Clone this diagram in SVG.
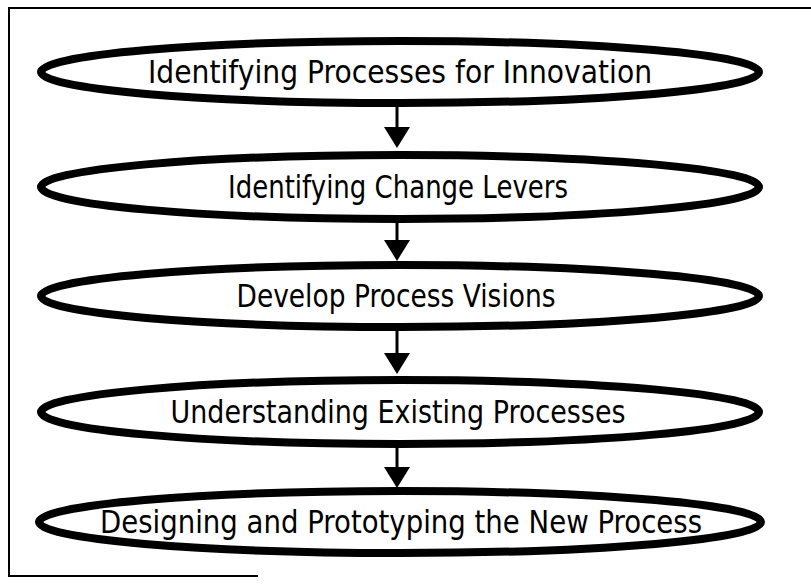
<svg xmlns="http://www.w3.org/2000/svg" width="811" height="584" viewBox="0 0 811 584">
<defs>
<style>
.node ellipse{fill:#fff;stroke:#000;stroke-width:8}
.node text{font-family:"DejaVu Sans","Liberation Sans",sans-serif;font-size:32px;fill:#000;text-anchor:middle}
.conn line{stroke:#000;stroke-width:3}
.conn polygon{fill:#000}
.frame{stroke:#000;stroke-width:2;fill:none}
</style>
</defs>
<rect width="811" height="584" fill="#fff"/>
<g id="frame">
<line class="frame" x1="8" y1="8" x2="811" y2="8"/>
<line class="frame" x1="9" y1="8" x2="9" y2="576"/>
<line class="frame" x1="8" y1="576" x2="258" y2="576"/>
</g>
<g id="connectors" class="conn">
<line x1="397" y1="104" x2="397" y2="130"/><polygon points="384,127 410,127 397,148"/>
<line x1="397" y1="222" x2="397" y2="243"/><polygon points="384,240 410,240 397,261"/>
<line x1="397" y1="328" x2="397" y2="356"/><polygon points="384,353 410,353 397,374"/>
<line x1="397" y1="447" x2="397" y2="470"/><polygon points="384,467 410,467 397,488"/>
</g>
<g id="n1" class="node"><ellipse cx="400" cy="72" rx="359" ry="31"/><text x="400" y="83" textLength="504" lengthAdjust="spacingAndGlyphs">Identifying Processes for Innovation</text></g>
<g id="n2" class="node"><ellipse cx="400" cy="187" rx="359" ry="32"/><text x="398" y="198" textLength="340" lengthAdjust="spacingAndGlyphs">Identifying Change Levers</text></g>
<g id="n3" class="node"><ellipse cx="400" cy="296" rx="359" ry="31"/><text x="396" y="307" textLength="319" lengthAdjust="spacingAndGlyphs">Develop Process Visions</text></g>
<g id="n4" class="node"><ellipse cx="400" cy="412" rx="359" ry="32"/><text x="398" y="423" textLength="455" lengthAdjust="spacingAndGlyphs">Understanding Existing Processes</text></g>
<g id="n5" class="node"><ellipse cx="400" cy="522" rx="361" ry="31"/><text x="401" y="533" textLength="602" lengthAdjust="spacingAndGlyphs">Designing and Prototyping the New Process</text></g>
</svg>
